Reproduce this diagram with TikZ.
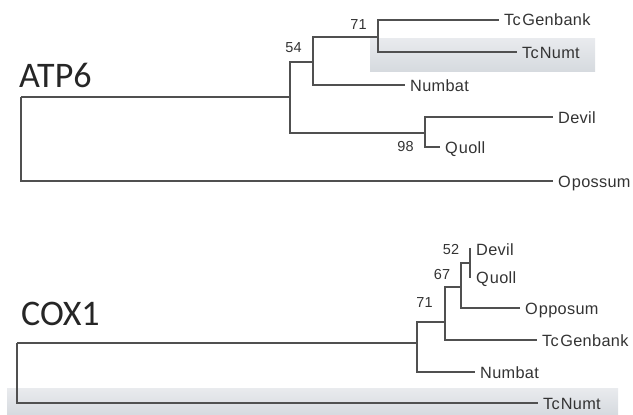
\documentclass[tikz,border=0pt]{standalone}
\usepackage{fontspec}
\setmainfont{Liberation Sans}[LetterSpace=2]
\newfontfamily\titlefont{Carlito}
\definecolor{branch}{HTML}{505050}
\definecolor{leaftext}{HTML}{333333}
\definecolor{boxtop}{HTML}{E9EBEE}
\definecolor{boxbot}{HTML}{D6DADF}
\begin{document}
\begin{tikzpicture}[x=1pt,y=-1pt,
  br/.style={draw=branch,line width=1.15pt},
  leaf/.style={anchor=west,inner xsep=5pt,inner ysep=0pt,text height=12pt,text depth=0pt,
     font=\fontsize{16.3}{17}\selectfont,text=leaftext},
  boot/.style={inner sep=0pt,font=\fontsize{14.5}{15}\selectfont,text=leaftext},
  gene/.style={anchor=base west,inner sep=0pt,font=\titlefont\fontsize{36}{38}\selectfont,text=black!85},
  hl/.style={top color=boxtop,bottom color=boxbot,draw=none}]
\useasboundingbox (0,0) rectangle (633,415);
% highlight boxes
\path[hl] (370,38) rectangle (595,71);
\path[hl] (7,388) rectangle (618,415);
% titles
\node[gene] (atp) at (19,87) {ATP6};
\node[gene] (cox) at (21,325) {COX1};
% ---- ATP6 tree ----
\coordinate (ra) at (21,97);
\coordinate (na) at (290,97);
\coordinate (nb) at (313,62);
\coordinate (nc) at (378,37);
\coordinate (nd) at (425,133);
\node[leaf] (a1) at (499,20) {Tc\hspace{1.5pt}Genbank};
\node[leaf] (a2) at (517,52) {Tc\hspace{1pt}Numt};
\node[leaf] (a3) at (405,85) {Numbat};
\node[leaf] (a4) at (553,117) {Devil};
\node[leaf] (a5) at (440,147) {Q\hspace{1pt}uoll};
\node[leaf] (a6) at (553,181) {O\hspace{1pt}possum};
\draw[br] (ra) -- (na);
\draw[br] (ra) |- (a6.west);
\draw[br] (na) |- (nb);
\draw[br] (na) |- (nd);
\draw[br] (nb) |- (nc);
\draw[br] (nb) |- (a3.west);
\draw[br] (nc) |- (a1.west);
\draw[br] (nc) |- (a2.west);
\draw[br] (nd) |- (a4.west);
\draw[br] (nd) |- (a5.west);
\node[boot] (b54) at (293.5,48) {54};
\node[boot] (b71a) at (358.5,24.5) {71};
\node[boot] (b98) at (405.5,147) {98};
% ---- COX1 tree ----
\coordinate (rc) at (17,343);
\coordinate (m0) at (417,343);
\coordinate (m71) at (445,322);
\coordinate (m67) at (461,287);
\coordinate (m52) at (470,263);
\node[leaf] (c1) at (471,249) {Devil};
\node[leaf] (c2) at (471,277) {Q\hspace{1pt}uoll};
\node[leaf] (c3) at (520,308) {O\hspace{1pt}pposum};
\node[leaf] (c4) at (537,340) {Tc\hspace{1.5pt}Genbank};
\node[leaf] (c5) at (475,372) {Numbat};
\node[leaf] (c6) at (538,403) {Tc\hspace{1pt}Numt};
\draw[br] (rc) -- (m0);
\draw[br] (rc) |- (c6.west);
\draw[br] (m0) |- (m71);
\draw[br] (m0) |- (c5.west);
\draw[br] (m71) |- (m67);
\draw[br] (m71) |- (c4.west);
\draw[br] (m67) |- (m52);
\draw[br] (m67) |- (c3.west);
\draw[br] (m52) |- (c1.west);
\draw[br] (m52) |- (c2.west);
\node[boot] (d52) at (451,250) {52};
\node[boot] (d67) at (442,275) {67};
\node[boot] (d71) at (424.5,303) {71};
\end{tikzpicture}
\end{document}
